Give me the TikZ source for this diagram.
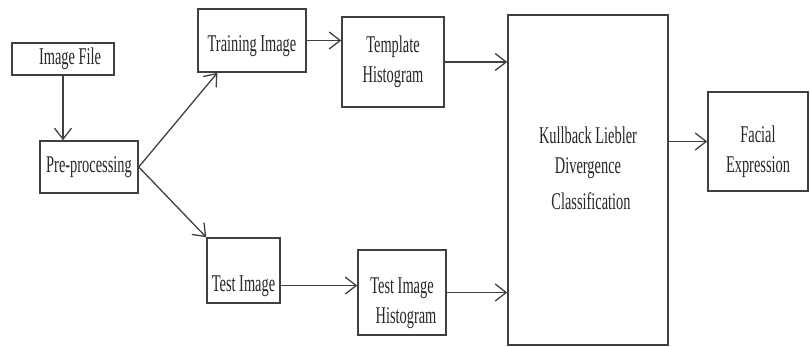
\documentclass[tikz,border=0pt]{standalone}
\usepackage{fontspec}
\setmainfont{Liberation Serif}[FakeStretch=0.6]
\usetikzlibrary{arrows.meta}

% invisible struts that move a label up or down in its box
\newcommand{\pushdown}[1]{\rule{0pt}{#1}}
\newcommand{\pushup}[1]{\rule[-#1]{0pt}{0pt}}

\tikzset{%
  every block/.style={
    rectangle,
    draw=black!75,
    line width=1.5pt,
    inner sep=0pt,
    align=center,
    font=\fontsize{24}{30}\selectfont,
    text=black!85
  },
  >={Straight Barb[length=11pt,width=17pt,line width=1.3pt]},
}

\begin{document}
\begin{tikzpicture}[x=1pt,y=-1pt]
  \useasboundingbox (0,0) rectangle (810,347);
  \node [every block, minimum width=102, minimum height=32] (b-1) at (63,59) {\hspace{14pt}Image File};
  \node [every block, minimum width=98, minimum height=52] (b-2) at (89,167) {Pre-processing};
  \node [every block, minimum width=108, minimum height=63] (b-3) at (252,40.5) {\pushdown{27pt}Training Image};
  \node [every block, minimum width=73, minimum height=65] (b-4) at (243.5,270.5) {\pushdown{47pt}Test Image};
  \node [every block, minimum width=102, minimum height=90] (b-5) at (393,62) {Template\\Histogram};
  \node [every block, minimum width=88, minimum height=85] (b-6) at (402,292.5) {\pushdown{38pt}Test Image\\\hspace{8pt}Histogram};
  \node [every block, minimum width=160, minimum height=330] (b-7) at (588,180) {Kullback Liebler\\Divergence\\[6pt]\hspace{6pt}Classification\pushup{24pt}};
  \node [every block, minimum width=100, minimum height=99] (b-8) at (758,141.5) {\pushdown{38pt}Facial\\Expression};
  %
  \draw [->, draw=black!75, line width=1.3pt] (b-1.south) -- (b-1.south |- b-2.north);
  \draw [->, draw=black!75, line width=1.3pt] (b-2.east) -- (b-3.223);
  \draw [->, draw=black!75, line width=1.3pt] (b-2.east) -- (b-4.north west);
  \draw [->, draw=black!75, line width=1.3pt] (b-3.east) -- (b-3.east -| b-5.west);
  \draw [->, draw=black!75, line width=1.3pt] (b-4.-22) -- (b-4.-22 -| b-6.west);
  \draw [->, draw=black!75, line width=1.3pt] (b-5.east) -- (b-5.east -| b-7.west);
  \draw [->, draw=black!75, line width=1.3pt] (b-6.east) -- (b-6.east -| b-7.west);
  \draw [->, draw=black!75, line width=1.3pt] (b-7.east |- b-8.west) -- (b-8.west);
\end{tikzpicture}
\end{document}
